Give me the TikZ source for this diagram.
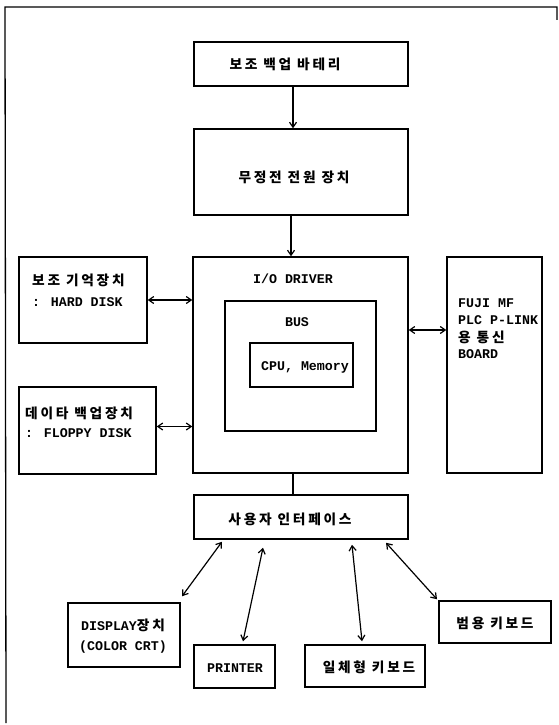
\documentclass[tikz,border=0pt]{standalone}
\usepackage{fontspec}
\newfontfamily\krfont{Noto Sans CJK KR}[LetterSpace=20]
\newfontfamily\monofont{Liberation Mono}
\newcommand\K[1]{{\krfont\bfseries\fontsize{13.7}{15}\selectfont #1}}
\newcommand\M[1]{{\monofont\bfseries\fontsize{13.3}{15}\selectfont #1}}
\usetikzlibrary{arrows.meta}
\tikzset{
  box/.style={draw, line width=1.5pt, inner sep=0pt, anchor=center},
  lbl/.style={inner sep=0pt},
  dbl/.style={line width=1.2pt, {Straight Barb[length=5pt,width=7pt]}-{Straight Barb[length=5pt,width=7pt]}},
  sgl/.style={line width=1.2pt, -{Straight Barb[length=5pt,width=7pt]}},
  frame/.style={line width=1.3pt}
}
\begin{document}
\begin{tikzpicture}[x=1pt,y=-1pt]
\useasboundingbox (0,0) rectangle (559,725);
% frame
\coordinate (f1) at (5,7);
\coordinate (f2) at (557,7);
\coordinate (f3) at (557,20);
\coordinate (f4) at (6,723);
\draw[frame] (f4) -- (f1) -- (f2) -- (f3);

% boxes
\node[box, minimum width=214pt, minimum height=44pt] (bat) at (301,64) {};
\node[box, minimum width=214pt, minimum height=86pt] (ups) at (301,172) {};
\node[box, minimum width=215pt, minimum height=216pt] (io) at (300.5,365) {};
\node[box, minimum width=151pt, minimum height=130pt] (bus) at (300.5,366) {};
\node[box, minimum width=103pt, minimum height=44pt] (cpu) at (301.5,365) {};
\node[box, minimum width=95pt, minimum height=216pt] (fuji) at (494.5,365) {};
\node[box, minimum width=128pt, minimum height=86pt] (hdd) at (83,300) {};
\node[box, minimum width=137pt, minimum height=87pt] (fdd) at (87.5,430.5) {};
\node[box, minimum width=214pt, minimum height=44pt] (ui) at (301,517) {};
\node[box, minimum width=112pt, minimum height=64pt] (disp) at (124,635) {};
\node[box, minimum width=81pt, minimum height=43pt] (prn) at (234.5,666.5) {};
\node[box, minimum width=120pt, minimum height=42pt] (kb1) at (365,666) {};
\node[box, minimum width=112pt, minimum height=42pt] (kb2) at (495,622) {};

% labels
\node[lbl] (tbat) at (285,64) {\K{보조 백업 바테리}};
\node[lbl] (tups) at (294,177) {\K{무정전 전원 장치}};
\node[lbl] (tio) at (293,279) {\M{I/O DRIVER}};
\node[lbl] (tbus) at (297,322) {\M{BUS}};
\node[lbl] (tcpu) at (305,367) {\M{CPU, Memory}};
\node[lbl, anchor=west] (tf1) at (458,303) {\M{FUJI MF}};
\node[lbl, anchor=west] (tf2) at (458,320) {\M{PLC P-LINK}};
\node[lbl, anchor=west] (tf3) at (458,337) {\K{용 통신}};
\node[lbl, anchor=west] (tf4) at (458,354) {\M{BOARD}};
\node[lbl, anchor=west] (th1) at (32,280) {\K{보조 기억장치}};
\node[lbl, anchor=west] (th2) at (32,302) {\M{: HARD DISK}};
\node[lbl, anchor=west] (td1) at (25,413) {\K{데이타 백업장치}};
\node[lbl, anchor=west] (td2) at (25,433) {\M{: FLOPPY DISK}};
\node[lbl] (tui) at (290,519) {\K{사용자 인터페이스}};
\node[lbl] (tdisp1) at (123,625) {\M{DISPLAY}\K{장치}};
\node[lbl] (tdisp2) at (123,647) {\M{(COLOR CRT)}};
\node[lbl] (tprn) at (235,668) {\M{PRINTER}};
\node[lbl] (tkb1) at (369,667) {\K{일체형 키보드}};
\node[lbl] (tkb2) at (495,623) {\K{범용 키보드}};

% connectors
\draw[sgl] ([xshift=-8pt]bat.south) -- ([xshift=-8pt]ups.north);
\draw[sgl] ([xshift=-10pt]ups.south) -- ([xshift=-9.5pt]io.north);
\draw[dbl] (hdd.east) -- (hdd.east -| io.west);
\draw[dbl] ([yshift=4pt]fdd.east) -- ([yshift=4pt]fdd.east -| io.west);
\draw[dbl] ([yshift=35pt]io.east) -- ([yshift=35pt]fuji.west);
\draw[line width=1.2pt] ([xshift=-7.5pt]io.south) -- ([xshift=-8pt]ui.north);
\draw[dbl] ([xshift=-79pt,yshift=-2pt]ui.south) -- ([xshift=58pt,yshift=6pt]disp.north);
\draw[dbl] ([xshift=-38pt,yshift=-8pt]ui.south) -- ([xshift=8.5pt,yshift=3pt]prn.north);
\draw[dbl] ([xshift=51pt,yshift=-5pt]ui.south) -- ([xshift=-3pt,yshift=3pt]kb1.north);
\draw[dbl] ([xshift=85pt,yshift=-3pt]ui.south) -- ([xshift=-58pt,yshift=1pt]kb2.north);
\end{tikzpicture}
\end{document}
